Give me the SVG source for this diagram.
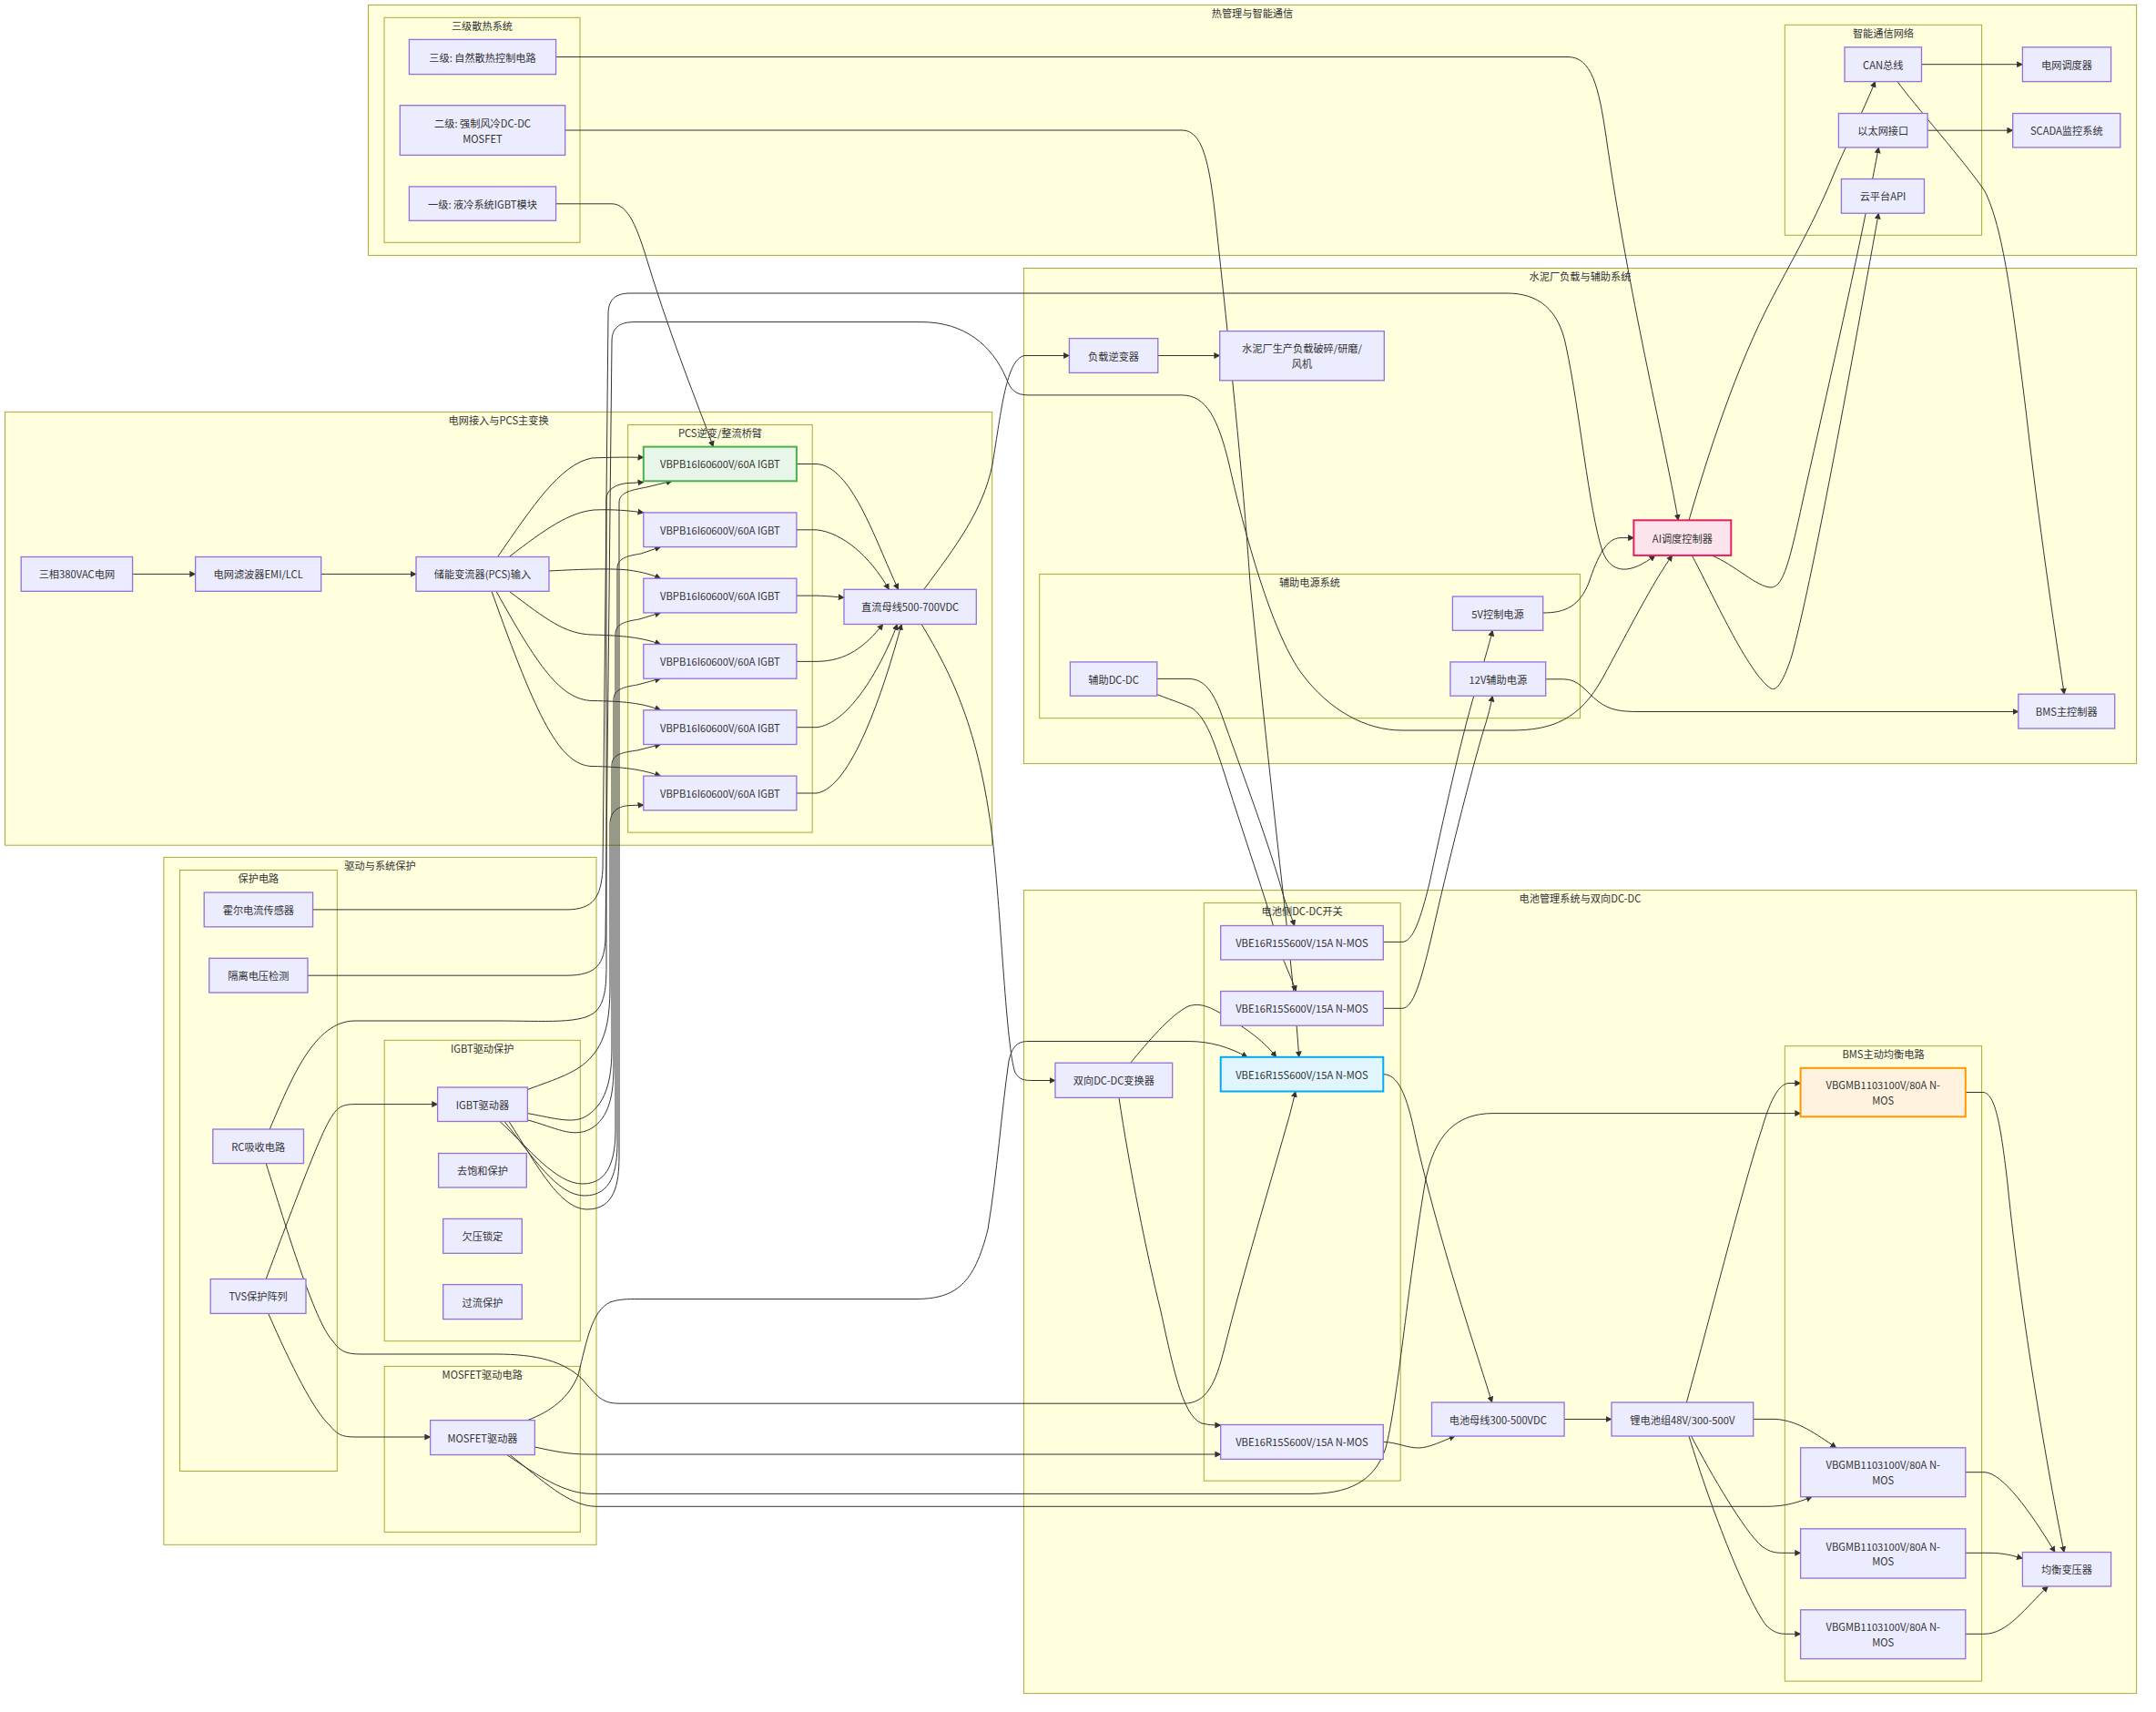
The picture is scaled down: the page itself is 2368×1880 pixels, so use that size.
<svg xmlns="http://www.w3.org/2000/svg" width="2368" height="1880" viewBox="0 0 2368 1880">
<defs>
<style>
.cl{fill:#FFFFDE;stroke:#AAAA33;stroke-width:1}
.nd{fill:#ECECFF;stroke:#9370DB;stroke-width:1.3}
.g{fill:#E8F5E9;stroke:#4CAF50;stroke-width:2}
.p{fill:#FCE4EC;stroke:#E91E63;stroke-width:2}
.b{fill:#E1F5FE;stroke:#03A9F4;stroke-width:2}
.o{fill:#FFF3E0;stroke:#FF9800;stroke-width:2}
.e{fill:none;stroke:#333;stroke-width:1}
.a{marker-end:url(#arr)}
text{font-family:"Noto Sans CJK SC","Noto Sans",sans-serif;font-size:11.2px;fill:#333;text-anchor:middle;dominant-baseline:central}
</style>
<marker id="arr" viewBox="0 0 10 10" refX="9" refY="5" markerWidth="7" markerHeight="7" markerUnits="userSpaceOnUse" orient="auto"><path d="M0,0 L10,5 L0,10 z" fill="#333"/></marker>
</defs>
<rect width="2368" height="1880" fill="#FFFFFF"/>

<!-- subgraphs -->
<g id="clusters">
<rect class="cl" x="404.5" y="5.5" width="1942.1" height="274.9"/><text x="1375.5" y="13.5">热管理与智能通信</text>
<rect class="cl" x="422" y="19.3" width="215" height="247"/><text x="529.5" y="27.5">三级散热系统</text>
<rect class="cl" x="1960.3" y="27.3" width="216.3" height="231"/><text x="2068.5" y="36">智能通信网络</text>
<rect class="cl" x="5.5" y="452.4" width="1084.2" height="475.8"/><text x="547.6" y="460.5">电网接入与PCS主变换</text>
<rect class="cl" x="689.7" y="466.5" width="202.5" height="447.6"/><text x="791" y="475">PCS逆变/整流桥臂</text>
<rect class="cl" x="1124.4" y="294.5" width="1222.2" height="544.1"/><text x="1735.5" y="303">水泥厂负载与辅助系统</text>
<rect class="cl" x="1141.7" y="630.4" width="593.7" height="158.3"/><text x="1438.5" y="638.5">辅助电源系统</text>
<rect class="cl" x="179.9" y="941.4" width="475.1" height="754.9"/><text x="417.5" y="950">驱动与系统保护</text>
<rect class="cl" x="197.5" y="955.5" width="172.8" height="660"/><text x="283.9" y="964">保护电路</text>
<rect class="cl" x="422.2" y="1142.3" width="215.1" height="330.4"/><text x="529.7" y="1151">IGBT驱动保护</text>
<rect class="cl" x="422.2" y="1500.4" width="215.1" height="182"/><text x="529.7" y="1509">MOSFET驱动电路</text>
<rect class="cl" x="1124.4" y="977.6" width="1222.2" height="882"/><text x="1735.5" y="986">电池管理系统与双向DC-DC</text>
<rect class="cl" x="1322.3" y="991.6" width="215.9" height="634.5"/><text x="1430.2" y="1000">电池侧DC-DC开关</text>
<rect class="cl" x="1960.3" y="1148.7" width="216.3" height="697.4"/><text x="2068.5" y="1156.5">BMS主动均衡电路</text>
</g>

<!-- connectors -->
<g id="edges">
<path class="e a" d="M145.6,630.4 L214.6,630.4"/>
<path class="e a" d="M352.7,630.4 L457,630.4"/>
<!-- PCS input to bridge legs -->
<path class="e a" d="M546.6,611.5 C585,556 615,510 650,503 C672,502 690,502 706.8,502.3"/>
<path class="e a" d="M559.2,611.5 C600,580 625,563 652,560 C675,559 692,561 706.8,562.9"/>
<path class="e a" d="M603,627 C640,625 670,624 690,626 C705,628 716,631 725.5,635.2"/>
<path class="e a" d="M559.2,649.3 C600,680 620,696 650,697 C685,698 705,700 725.5,707.5"/>
<path class="e a" d="M545,649.3 C590,730 615,768 650,769.5 C685,770 705,772 725.5,779.8"/>
<path class="e a" d="M540,649.3 C590,790 615,840 650,841.5 C685,842 705,845 725.5,852.1"/>
<!-- bridge legs to DC bus -->
<path class="e a" d="M874.9,509.5 L897,509.5 C935,512 960,590 986.6,647.3"/>
<path class="e a" d="M874.9,581.8 L897,581.8 C925,585 955,610 976.4,647.3"/>
<path class="e a" d="M874.9,654.1 L897,654.1 C910,654.5 918,655.5 927,656.2"/>
<path class="e a" d="M874.9,726.4 L897,726.4 C930,726 950,710 969.8,685.5"/>
<path class="e a" d="M874.9,798.7 L897,798.7 C930,795 965,740 985.6,685.5"/>
<path class="e a" d="M874.9,871 L897,871 C935,865 970,760 990.2,685.5"/>
<!-- DC bus onward -->
<path class="e a" d="M1014.7,647.3 C1050,600 1080,560 1090,510 C1100,450 1105,395 1125,390.5 L1174.4,390.5"/>
<path class="e a" d="M1271.8,390.5 L1339.7,390.5"/>
<path class="e a" d="M1012.1,685.5 C1045,740 1075,800 1090,920 C1100,1010 1105,1150 1115,1178 C1120,1186 1125,1186.5 1135,1186.5 L1159,1186.5"/>
<!-- thermal tiers -->
<path class="e a" d="M610.6,62.5 L1722,62.5 C1748,62.5 1756,95 1764,150 C1790,330 1825,470 1843.3,571.3"/>
<path class="e a" d="M620.7,143 L1298,143 C1320,143 1328,175 1335,240 C1350,380 1365,520 1373,640 C1385,760 1400,900 1413,1014 C1420,1080 1424,1120 1426.7,1160.8"/>
<path class="e a" d="M610.6,223.8 L672,223.8 C690,224 700,250 712,290 C740,380 765,440 783.4,490.6"/>
<!-- sensors to AI controller -->
<path class="e a" d="M343.6,998.9 L622,998.9 C652,998.9 660,985 662,955 L668,345 C668,330 675,322 692,322 L1655,322 C1690,322 1712,340 1720,380 C1735,450 1745,560 1760,605 C1770,632 1792,630 1817.8,609.9"/>
<path class="e a" d="M338,1071.2 L622,1071.2 C656,1071.2 664,1058 665,1030 L672,375 C672,360 680,353.6 697,353.6 L1012,353.6 C1060,353.6 1090,380 1105,415 C1110,428 1115,433.9 1130,433.9 L1298,433.9 C1325,433.9 1338,460 1350,510 C1370,600 1400,700 1430,740 C1460,780 1500,802 1540,802 L1660,802 C1705,802 1735,790 1760,745 C1790,690 1815,640 1836.7,609.9"/>
<!-- protection / drivers into bridge legs -->
<path class="e a" d="M296.2,1240 C320,1185 345,1121 390,1121 L544,1121 C600,1121 640,1125 655,1110 C664,1100 666,1085 666,1060 L666,548 C666,536 680,531 690,530.5 L706.8,529.6"/>
<path class="e a" d="M579.4,1196.5 C610,1185 635,1178 650,1160 C668,1140 670,1110 670,1080 L670,905 C670,890 680,885 692,884.5 L706.8,884"/>
<path class="e a" d="M579.4,1222.6 C610,1228 630,1235 645,1225 C668,1210 672,1180 672,1150 L672,840 C672,828 685,826 700,824 L725.5,817.5"/>
<path class="e a" d="M579.4,1229.9 C610,1238 628,1250 648,1240 C670,1228 674,1200 674,1170 L674,768 C674,756 688,754 700,752 L725.5,745.2"/>
<path class="e a" d="M549,1231.5 C580,1260 610,1300 640,1300 C670,1300 676,1270 676,1240 L676,696 C676,684 690,682 702,680 L725.5,672.9"/>
<path class="e a" d="M554,1231.5 C585,1270 612,1313 642,1313 C672,1313 678,1285 678,1255 L678,624 C678,612 692,610 704,608 L725.5,600.6"/>
<path class="e a" d="M559,1231.5 C590,1280 615,1328 645,1328 C675,1328 680,1300 680,1270 L680,552 C680,540 695,538 710,535 L738,528.3"/>
<path class="e a" d="M292.2,1404.5 C320,1330 350,1250 362,1230 C370,1216 375,1212.6 390,1212.6 L480.6,1212.6"/>
<path class="e a" d="M294.7,1442.4 C320,1500 345,1550 362,1565 C370,1575 375,1578 390,1578 L472.6,1578"/>
<!-- MOSFET driver outputs -->
<path class="e a" d="M579.4,1559.6 C605,1550 625,1535 635,1510 C645,1470 650,1440 670,1430 C680,1426.5 690,1426.5 700,1426.5 L1005,1426.5 C1050,1426.5 1070,1410 1085,1350 C1095,1290 1100,1220 1108,1165 C1112,1148 1118,1143.5 1130,1143.5 L1305,1143.5 C1330,1143.5 1350,1150 1370,1160.8"/>
<path class="e a" d="M587.4,1589 C610,1594 625,1597 645,1597 L1340.7,1597"/>
<path class="e a" d="M556.7,1597.6 C590,1620 620,1640.4 650,1640.4 L1440,1640.4 C1490,1640 1512,1620 1522,1590 C1535,1540 1545,1420 1565,1300 C1575,1245 1600,1222.6 1640,1222.6 L1977.6,1222.6"/>
<path class="e a" d="M560,1597.6 C595,1625 625,1654.3 655,1654.3 L1940,1654.3 C1960,1654.3 1975,1650 1990,1643.7"/>
<path class="e a" d="M292.2,1277.6 C315,1350 345,1450 365,1472 C372,1482 378,1487 395,1487 L544,1487 C590,1487 620,1495 640,1515 C655,1532 660,1541.2 680,1541.2 L1300,1541.2 C1325,1541.2 1335,1520 1345,1480 C1365,1400 1395,1300 1412,1240 C1418,1220 1420,1210 1422.9,1198.5"/>
<!-- bidirectional converter and auxiliary DC-DC -->
<path class="e a" d="M1229,1205.4 C1240,1280 1260,1380 1275,1440 C1290,1510 1300,1555 1320,1563 C1328,1565 1334,1565 1340.7,1565"/>
<path class="e a" d="M1241.7,1167.2 C1260,1145 1285,1115 1305,1105 C1320,1100 1332,1108 1345,1115 C1370,1130 1390,1145 1401.7,1160.8"/>
<path class="e a" d="M1270.8,745.4 L1305,745.4 C1320,745.4 1330,755 1340,780 C1365,850 1395,930 1410,985 C1415,1000 1419,1008 1421.7,1016.5"/>
<path class="e a" d="M1270.8,762.6 C1290,770 1300,773 1310,778 C1325,790 1332,810 1345,850 C1370,930 1395,1000 1408,1050 C1414,1065 1420,1078 1423.3,1088.5"/>
<path class="e a" d="M1519.3,1034.4 L1540,1034.4 C1552,1034 1560,1010 1570,970 C1585,900 1605,810 1620,760 C1628,733 1635,710 1639.3,692.3"/>
<path class="e a" d="M1519.3,1107.3 L1540,1107.3 C1552,1107 1560,1080 1572,1030 C1590,950 1615,850 1630,800 C1635,785 1637,775 1639.3,764.2"/>
<path class="e a" d="M1697.7,745.8 L1717.6,745.8 C1735,746 1742,760 1755,770 C1768,780 1780,781.5 1800,781.5 L2216.8,781.5"/>
<path class="e a" d="M1694.7,673 C1720,673 1735,665 1745,640 C1755,610 1765,590.6 1780,590.6 L1794.4,590.6"/>
<!-- AI controller to communication network -->
<path class="e a" d="M1855,571.3 C1870,520 1900,420 1940,340 C1960,300 1990,250 2013,194 C2025,165 2045,125 2059.6,89.6"/>
<path class="e a" d="M1880,609.9 C1905,620 1930,645 1945,645 C1958,645 1965,620 1980,550 C2000,460 2030,330 2050,230 C2055,205 2060,180 2063.3,161.9"/>
<path class="e a" d="M1858.3,609.9 C1880,650 1920,740 1945,756 C1952,760 1960,745 1968,720 C1990,640 2030,420 2063.3,234.2"/>
<path class="e a" d="M2117.1,143.2 L2210.7,143.2"/>
<path class="e a" d="M2110.5,70.7 L2221.4,70.7"/>
<path class="e a" d="M2084,89.6 C2100,112 2160,180 2180,210 C2200,250 2210,330 2225,450 C2240,580 2255,680 2267.2,762.2"/>
<!-- battery side -->
<path class="e a" d="M1519.3,1179.6 C1535,1180 1545,1200 1555,1250 C1580,1360 1620,1480 1638.7,1540"/>
<path class="e a" d="M1519.3,1583.4 C1535,1584 1545,1590 1558,1590 C1570,1590 1585,1582 1598,1577.1"/>
<path class="e a" d="M1718.1,1558.5 L1770,1558.5"/>
<path class="e a" d="M1852.4,1540 C1880,1440 1915,1300 1935,1240 C1945,1205 1955,1189.5 1965,1189.5 L1977.6,1189.5"/>
<path class="e a" d="M1925.7,1558.4 L1950,1558.4 C1975,1560 1995,1575 2016.8,1589.8"/>
<path class="e a" d="M1857.5,1577 C1880,1620 1915,1680 1935,1698 C1945,1705 1950,1705.3 1960,1705.3 L1977.6,1705.3"/>
<path class="e a" d="M1855,1577 C1880,1660 1920,1760 1940,1785 C1948,1793 1955,1794.3 1962,1794.3 L1977.6,1794.3"/>
<path class="e a" d="M2158.8,1199.5 L2178,1199.5 C2192,1200 2198,1240 2205,1300 C2220,1450 2250,1620 2267,1704.5"/>
<path class="e a" d="M2158.8,1616.7 L2180,1616.7 C2200,1618 2230,1660 2257,1704.5"/>
<path class="e a" d="M2158.8,1705.3 L2185,1705.3 C2200,1705.3 2210,1708 2221.4,1711.4"/>
<path class="e a" d="M2158.8,1794.3 L2180,1794.3 C2205,1794 2225,1765 2249.4,1742"/>
</g>

<!-- nodes -->
<g id="n-cool3"><rect class="nd" x="449.4" y="43.4" width="161.2" height="38.2"/><text x="530" y="62.5">三级: 自然散热控制电路</text></g>
<g id="n-cool2"><rect class="nd" x="439.3" y="115.7" width="181.4" height="54.7"/><text x="530" y="134.6">二级: 强制风冷DC-DC</text><text x="530" y="151.5">MOSFET</text></g>
<g id="n-cool1"><rect class="nd" x="449.4" y="204.9" width="161.2" height="37.4"/><text x="530" y="223.6">一级: 液冷系统IGBT模块</text></g>
<g id="n-can"><rect class="nd" x="2026" y="51.8" width="84.5" height="37.8"/><text x="2068.25" y="70.7">CAN总线</text></g>
<g id="n-eth"><rect class="nd" x="2019.4" y="124.5" width="97.7" height="37.4"/><text x="2068.25" y="143.2">以太网接口</text></g>
<g id="n-cloud"><rect class="nd" x="2022.4" y="196.5" width="91.1" height="37.7"/><text x="2068" y="215.35">云平台API</text></g>
<g id="n-dispatch"><rect class="nd" x="2221.4" y="51.8" width="97.2" height="37.8"/><text x="2270" y="70.7">电网调度器</text></g>
<g id="n-scada"><rect class="nd" x="2210.7" y="124.5" width="118.1" height="37.4"/><text x="2269.75" y="143.2">SCADA监控系统</text></g>
<g id="n-grid"><rect class="nd" x="23.2" y="611.5" width="122.4" height="37.8"/><text x="84.4" y="630.4">三相380VAC电网</text></g>
<g id="n-emi"><rect class="nd" x="214.6" y="611.5" width="138.1" height="37.8"/><text x="283.65" y="630.4">电网滤波器EMI/LCL</text></g>
<g id="n-pcs"><rect class="nd" x="457" y="611.5" width="146" height="37.8"/><text x="530" y="630.4">储能变流器(PCS)输入</text></g>
<g id="n-igbt1"><rect class="g" x="706.8" y="490.6" width="168.1" height="37.7"/><text x="790.85" y="509.45">VBPB16I60600V/60A IGBT</text></g>
<g id="n-igbt2"><rect class="nd" x="706.8" y="562.9" width="168.1" height="37.7"/><text x="790.85" y="581.75">VBPB16I60600V/60A IGBT</text></g>
<g id="n-igbt3"><rect class="nd" x="706.8" y="635.2" width="168.1" height="37.7"/><text x="790.85" y="654.05">VBPB16I60600V/60A IGBT</text></g>
<g id="n-igbt4"><rect class="nd" x="706.8" y="707.5" width="168.1" height="37.7"/><text x="790.85" y="726.35">VBPB16I60600V/60A IGBT</text></g>
<g id="n-igbt5"><rect class="nd" x="706.8" y="779.8" width="168.1" height="37.7"/><text x="790.85" y="798.65">VBPB16I60600V/60A IGBT</text></g>
<g id="n-igbt6"><rect class="nd" x="706.8" y="852.1" width="168.1" height="37.7"/><text x="790.85" y="870.95">VBPB16I60600V/60A IGBT</text></g>
<g id="n-dcbus"><rect class="nd" x="927" y="647.3" width="145.3" height="38.2"/><text x="999.65" y="666.4">直流母线500-700VDC</text></g>
<g id="n-loadinv"><rect class="nd" x="1174.4" y="371.6" width="97.4" height="37.8"/><text x="1223.1" y="390.5">负载逆变器</text></g>
<g id="n-load"><rect class="nd" x="1339.7" y="363.6" width="180.6" height="54.2"/><text x="1430" y="382.4">水泥厂生产负载破碎/研磨/</text><text x="1430" y="399.1">风机</text></g>
<g id="n-auxdcdc"><rect class="nd" x="1175.4" y="726.9" width="95.4" height="37.3"/><text x="1223.1" y="745.55">辅助DC-DC</text></g>
<g id="n-5v"><rect class="nd" x="1595.4" y="655" width="99.3" height="37.3"/><text x="1645.05" y="673.65">5V控制电源</text></g>
<g id="n-12v"><rect class="nd" x="1592.9" y="726.9" width="104.8" height="37.3"/><text x="1645.3" y="745.55">12V辅助电源</text></g>
<g id="n-bmsctl"><rect class="nd" x="2216.8" y="762.2" width="105.9" height="37.8"/><text x="2269.75" y="781.1">BMS主控制器</text></g>
<g id="n-ai"><rect class="p" x="1794.4" y="571.3" width="106.9" height="38.6"/><text x="1847.85" y="590.6">AI调度控制器</text></g>
<g id="n-hall"><rect class="nd" x="224.2" y="980" width="119.4" height="37.8"/><text x="283.9" y="998.9">霍尔电流传感器</text></g>
<g id="n-isov"><rect class="nd" x="229.7" y="1052.3" width="108.3" height="37.7"/><text x="283.85" y="1071.15">隔离电压检测</text></g>
<g id="n-rc"><rect class="nd" x="233.8" y="1240" width="99.7" height="37.6"/><text x="283.65" y="1258.8">RC吸收电路</text></g>
<g id="n-tvs"><rect class="nd" x="231.2" y="1404.5" width="104.8" height="37.9"/><text x="283.6" y="1423.45">TVS保护阵列</text></g>
<g id="n-igbtdrv"><rect class="nd" x="480.6" y="1194" width="98.8" height="37.5"/><text x="530" y="1212.75">IGBT驱动器</text></g>
<g id="n-desat"><rect class="nd" x="481.6" y="1266.5" width="96.7" height="37.5"/><text x="529.95" y="1285.25">去饱和保护</text></g>
<g id="n-uvlo"><rect class="nd" x="486.7" y="1338.4" width="86.6" height="37.9"/><text x="530" y="1357.35">欠压锁定</text></g>
<g id="n-ocp"><rect class="nd" x="486.7" y="1410.6" width="86.6" height="38"/><text x="530" y="1429.6">过流保护</text></g>
<g id="n-mosdrv"><rect class="nd" x="472.6" y="1559.6" width="114.8" height="38"/><text x="530" y="1578.6">MOSFET驱动器</text></g>
<g id="n-bidir"><rect class="nd" x="1159" y="1167.2" width="128.7" height="38.2"/><text x="1223.35" y="1186.3">双向DC-DC变换器</text></g>
<g id="n-vbe1"><rect class="nd" x="1340.7" y="1016.5" width="178.6" height="37.4"/><text x="1430" y="1035.2">VBE16R15S600V/15A N-MOS</text></g>
<g id="n-vbe2"><rect class="nd" x="1340.7" y="1088.5" width="178.6" height="37.7"/><text x="1430" y="1107.35">VBE16R15S600V/15A N-MOS</text></g>
<g id="n-vbe3"><rect class="b" x="1340.7" y="1160.8" width="178.6" height="37.7"/><text x="1430" y="1179.65">VBE16R15S600V/15A N-MOS</text></g>
<g id="n-vbe4"><rect class="nd" x="1340.7" y="1564.5" width="178.6" height="37.9"/><text x="1430" y="1583.45">VBE16R15S600V/15A N-MOS</text></g>
<g id="n-battbus"><rect class="nd" x="1572.5" y="1540" width="145.6" height="37.1"/><text x="1645.3" y="1558.55">电池母线300-500VDC</text></g>
<g id="n-pack"><rect class="nd" x="1770" y="1540" width="155.7" height="37"/><text x="1847.85" y="1558.5">锂电池组48V/300-500V</text></g>
<g id="n-bal1"><rect class="o" x="1977.6" y="1172.8" width="181.2" height="53.5"/><text x="2068.2" y="1191.2">VBGMB1103100V/80A N-</text><text x="2068.2" y="1207.9">MOS</text></g>
<g id="n-bal2"><rect class="nd" x="1977.6" y="1589.8" width="181.2" height="53.9"/><text x="2068.2" y="1608.4">VBGMB1103100V/80A N-</text><text x="2068.2" y="1625.1">MOS</text></g>
<g id="n-bal3"><rect class="nd" x="1977.6" y="1678.8" width="181.2" height="54.3"/><text x="2068.2" y="1697.6">VBGMB1103100V/80A N-</text><text x="2068.2" y="1714.3">MOS</text></g>
<g id="n-bal4"><rect class="nd" x="1977.6" y="1767.8" width="181.2" height="53.8"/><text x="2068.2" y="1786.4">VBGMB1103100V/80A N-</text><text x="2068.2" y="1803.1">MOS</text></g>
<g id="n-baltx"><rect class="nd" x="2221.4" y="1704.5" width="97.2" height="37.5"/><text x="2270" y="1723.25">均衡变压器</text></g>
</svg>
